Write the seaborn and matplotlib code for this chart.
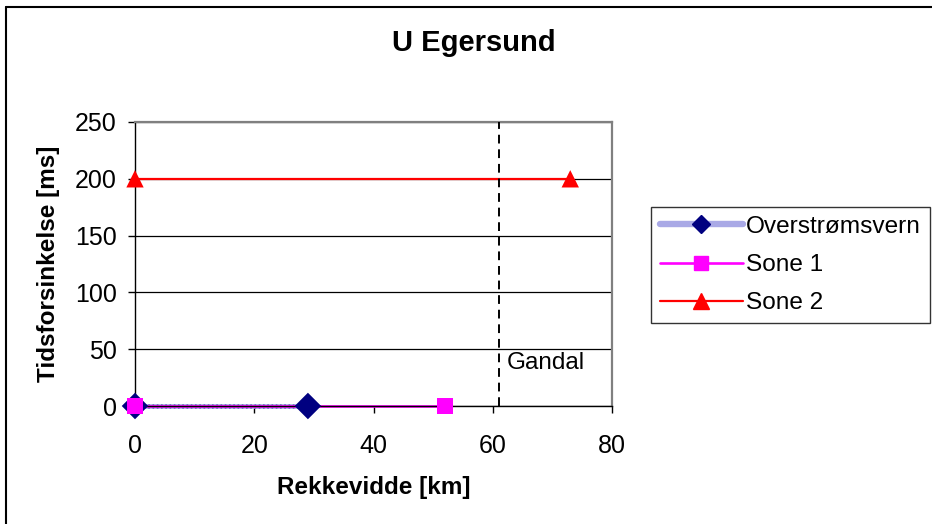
import matplotlib
matplotlib.use("Agg")
import matplotlib.pyplot as plt
from matplotlib.lines import Line2D
import pandas as pd
import seaborn as sns

# Series data: range [km] vs. time delay [ms]
overstrom_km = [0, 29]
overstrom_ms = [0, 0]
sone1_km = [0, 52]
sone1_ms = [0, 0]
sone2_km = [0, 73]
sone2_ms = [200, 200]
series_names = ["Overstrømsvern", "Sone 1", "Sone 2"]

gandal_km = 61
gandal_label = "Gandal"

x_ticks = [0, 20, 40, 60, 80]
y_ticks = [0, 50, 100, 150, 200, 250]

sns.set_style("white")
plt.rcParams["font.family"] = ["Liberation Sans", "DejaVu Sans"]
plt.rcParams["text.color"] = "black"
plt.rcParams["axes.labelcolor"] = "black"
plt.rcParams["xtick.color"] = "black"
plt.rcParams["ytick.color"] = "black"

W, H = 932, 524
fig = plt.figure(figsize=(W / 100, H / 100), dpi=100)
fig.patch.set_facecolor("white")

left, right, top, bottom = 135, 612, 122, 406
ax = fig.add_axes([left / W, 1 - bottom / H, (right - left) / W, (bottom - top) / H])

df = pd.concat([
    pd.DataFrame({"km": overstrom_km, "ms": overstrom_ms, "serie": series_names[0]}),
    pd.DataFrame({"km": sone1_km, "ms": sone1_ms, "serie": series_names[1]}),
    pd.DataFrame({"km": sone2_km, "ms": sone2_ms, "serie": series_names[2]}),
], ignore_index=True)

styles = {
    series_names[0]: dict(line="#a9a9e6", lw=3.4, marker="D", mcolor="#000080", ms=13.5, lms=9.5),
    series_names[1]: dict(line="#ff00ff", lw=1.9, marker="s", mcolor="#ff00ff", ms=11.5, lms=10.5),
    series_names[2]: dict(line="#ff0000", lw=1.6, marker="^", mcolor="#ff0000", ms=12.5, lms=12),
}

# Lines first, markers on top in series order
for name in series_names:
    st = styles[name]
    sub = df[df["serie"] == name]
    sns.lineplot(data=sub, x="km", y="ms", ax=ax, color=st["line"], lw=st["lw"],
                 zorder=2, clip_on=False, legend=False, sort=False)
    if name == series_names[0]:
        # fine navy stipple on top of the light band
        sns.lineplot(data=sub, x="km", y="ms", ax=ax, color="#3a3aa0", lw=3.4,
                     ls=(0, (0.35, 0.55)), alpha=0.55, zorder=2, clip_on=False,
                     legend=False, sort=False)
for i, name in enumerate(series_names):
    st = styles[name]
    sub = df[df["serie"] == name]
    sns.scatterplot(data=sub, x="km", y="ms", ax=ax, marker=st["marker"],
                    s=st["ms"] ** 2, color=st["mcolor"], edgecolor="none",
                    linewidth=0, zorder=4 + i, clip_on=False, legend=False)

# Gandal boundary
ax.axvline(gandal_km, color="black", lw=1.4, ls=(0, (4.5, 3)), zorder=3)
ax.text(gandal_km + 1.3, 38, gandal_label, fontsize=17.5, va="center", ha="left")

ax.set_xlim(0, 80)
ax.set_ylim(0, 250)
ax.set_xticks(x_ticks)
ax.set_yticks(y_ticks)
ax.yaxis.grid(True, color="black", lw=0.9)
ax.xaxis.grid(False)
ax.set_axisbelow(True)

for s in ["left", "bottom"]:
    ax.spines[s].set_color("black")
    ax.spines[s].set_linewidth(1.0)
for s in ["top", "right"]:
    ax.spines[s].set_color("#808080")
    ax.spines[s].set_linewidth(1.6)

ax.tick_params(axis="both", direction="out", length=5, width=1, color="black",
               labelsize=18, bottom=True, left=True)
ax.tick_params(axis="y", pad=8)
ax.tick_params(axis="x", pad=15)

ax.set_xlabel("Rekkevidde [km]", fontsize=17.5, fontweight="bold", labelpad=13)
ax.set_ylabel("Tidsforsinkelse [ms]", fontsize=17.5, fontweight="bold", labelpad=11)

fig.text(474 / W, 1 - 43 / H, "U Egersund", fontsize=21, fontweight="bold",
         ha="center", va="center")

handles = []
for name in series_names:
    st = styles[name]
    handles.append(Line2D([], [], color=st["line"], lw=st["lw"] + (1.2 if name == series_names[0] else 0),
                          marker=st["marker"], markersize=st["lms"],
                          markerfacecolor=st["mcolor"], markeredgecolor=st["mcolor"]))
leg = fig.legend(handles, series_names, loc="upper left",
                 bbox_to_anchor=(651 / W, 1 - 207 / H), bbox_transform=fig.transFigure,
                 fontsize=17.6, frameon=True, fancybox=False, edgecolor="black",
                 borderpad=0.36, handlelength=3.4, handletextpad=0.12,
                 labelspacing=0.66, borderaxespad=0)
leg.get_frame().set_linewidth(1.0)

# Chart area border (left and top edges)
fig.add_artist(Line2D([6 / W, 6 / W], [0, 1 - 7 / H], transform=fig.transFigure,
                      color="black", lw=1.5))
fig.add_artist(Line2D([6 / W, 1], [1 - 7 / H, 1 - 7 / H], transform=fig.transFigure,
                      color="black", lw=1.5))

fig.savefig("out.png", dpi=100)
